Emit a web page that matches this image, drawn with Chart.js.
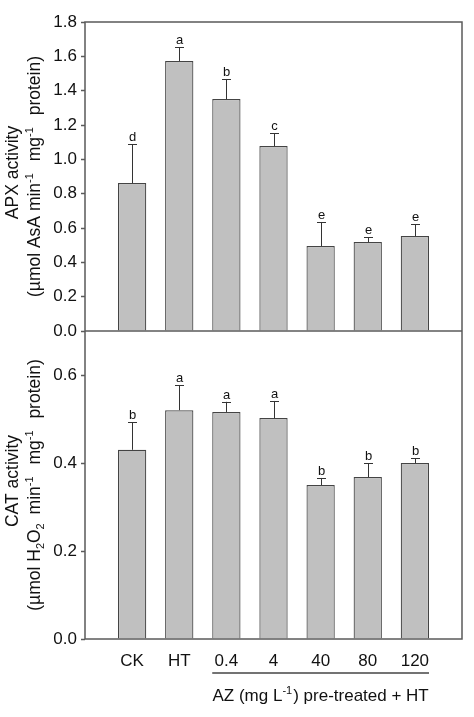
<!DOCTYPE html>
<html><head><meta charset="utf-8">
<script src="https://cdn.jsdelivr.net/npm/chart.js@4/dist/chart.umd.min.js"></script>
<style>html,body{margin:0;padding:0;background:#fff}#wrap{width:474px;height:717px}</style>
</head><body><div id="wrap"><canvas id="c" width="474" height="717"></canvas></div>
<script>
// ---- data ----
const categories = ['CK', 'HT', '0.4', '4', '40', '80', '120'];
const apxMean = [0.862, 1.573, 1.351, 1.077, 0.495, 0.518, 0.553];
const apxErr = [0.227, 0.081, 0.117, 0.076, 0.140, 0.029, 0.070];
const apxLetters = ['d', 'a', 'b', 'c', 'e', 'e', 'e'];
const catMean = [0.430, 0.520, 0.516, 0.502, 0.350, 0.368, 0.400];
const catErr = [0.063, 0.057, 0.023, 0.039, 0.016, 0.032, 0.011];
const catLetters = ['b', 'a', 'a', 'a', 'b', 'b', 'b'];
const apxRange = [0, 1.8];
const catRange = [0, 0.7];
const tickStep = 0.2;
const groupFirst = 2, groupLast = 6; // AZ pre-treated categories

// ---- style ----
const FONT = 'Liberation Sans, Arial, sans-serif';
const AXIS = '#5a5a5a';
const BAR_FILL = '#c0c0c0';
const BAR_EDGE = '#444';
const TXT = '#111';

function richText(ctx, segs, size) {
  const parts = segs.map(s => {
    const fs = s.sup || s.sub ? Math.round(size * 0.62) : size;
    ctx.font = fs + 'px ' + FONT;
    return {t: s.t, fs, w: ctx.measureText(s.t).width + (s.gap || 0), dy: s.sup ? -size * 0.42 : (s.sub ? size * 0.25 : 0)};
  });
  return {parts, width: parts.reduce((a, p) => a + p.w, 0)};
}
function drawRich(ctx, segs, size, cx, cy, rotate) {
  ctx.save();
  ctx.translate(cx, cy);
  if (rotate) ctx.rotate(-Math.PI / 2);
  const r = richText(ctx, segs, size);
  let x = -r.width / 2;
  ctx.textAlign = 'left';
  ctx.textBaseline = 'alphabetic';
  ctx.fillStyle = TXT;
  for (const p of r.parts) {
    ctx.font = p.fs + 'px ' + FONT;
    ctx.fillText(p.t, x, p.dy);
    x += p.w;
  }
  ctx.restore();
}

const decor = {
  id: 'decor',
  afterDatasetsDraw(chart) {
    const ctx = chart.ctx;
    const {left, right, top, bottom} = chart.chartArea;
    const xs = chart.scales.x, ya = chart.scales.yApx, yc = chart.scales.yCat;
    const barW = chart.getDatasetMeta(0).data[0].width;
    ctx.save();
    // error bars + letters
    const drawErr = (scale, mean, err, letters) => {
      ctx.strokeStyle = '#333';
      ctx.lineWidth = 1;
      for (let i = 0; i < categories.length; i++) {
        const x = Math.round(xs.getPixelForValue(i)) + 0.5;
        const y0 = scale.getPixelForValue(mean[i]);
        const y1 = scale.getPixelForValue(mean[i] + err[i]);
        ctx.beginPath();
        ctx.moveTo(x, y0); ctx.lineTo(x, y1);
        ctx.moveTo(x - 4.5, Math.round(y1) + 0.5); ctx.lineTo(x + 4.5, Math.round(y1) + 0.5);
        ctx.stroke();
        ctx.fillStyle = TXT;
        ctx.font = '13px ' + FONT;
        ctx.textAlign = 'center';
        ctx.textBaseline = 'alphabetic';
        ctx.fillText(letters[i], x, y1 - 3);
      }
    };
    drawErr(ya, apxMean, apxErr, apxLetters);
    drawErr(yc, catMean, catErr, catLetters);
    // frame + divider
    ctx.strokeStyle = AXIS;
    ctx.lineWidth = 1.5;
    ctx.strokeRect(left, top, right - left, bottom - top);
    const yd = ya.getPixelForValue(apxRange[0]);
    ctx.beginPath(); ctx.moveTo(left, yd); ctx.lineTo(right, yd); ctx.stroke();
    // group underline and x title
    const gx0 = xs.getPixelForValue(groupFirst) - barW / 2;
    const gx1 = xs.getPixelForValue(groupLast) + barW / 2;
    ctx.strokeStyle = '#444';
    ctx.lineWidth = 1.5;
    ctx.beginPath(); ctx.moveTo(gx0, bottom + 34); ctx.lineTo(gx1, bottom + 34); ctx.stroke();
    drawRich(ctx, [{t: 'AZ (mg L'}, {t: '-1', sup: true, gap: 1}, {t: ') pre-treated + HT'}], 17, (gx0 + gx1) / 2, bottom + 62, false);
    // y titles
    const midA = (ya.top + ya.bottom) / 2, midC = (yc.top + yc.bottom) / 2;
    drawRich(ctx, [{t: 'APX activity'}], 17.5, 18, midA - 4, true);
    drawRich(ctx, [{t: '(µmol AsA min'}, {t: '-1', sup: true, gap: 7}, {t: ' mg'}, {t: '-1', sup: true, gap: 7}, {t: ' protein)'}], 17.5, 40, midA, true);
    drawRich(ctx, [{t: 'CAT activity'}], 17.5, 18, midC - 4, true);
    drawRich(ctx, [{t: '(µmol H'}, {t: '2', sub: true}, {t: 'O'}, {t: '2', sub: true, gap: 4}, {t: ' min'}, {t: '-1', sup: true, gap: 7}, {t: ' mg'}, {t: '-1', sup: true, gap: 7}, {t: ' protein)'}], 17.5, 40, midC, true);
    ctx.restore();
  }
};

const yCommon = (range, weight) => ({
  type: 'linear', position: 'left', stack: 'panels', stackWeight: weight,
  min: range[0], max: range[1],
  border: {display: false},
  grid: {drawOnChartArea: false, tickColor: AXIS, tickLength: 4, tickWidth: 1.5},
  ticks: {stepSize: tickStep, autoSkip: false, padding: 4, color: TXT, font: {family: FONT, size: 17},
          callback: v => v.toFixed(1)},
  afterBuildTicks: s => { s.ticks = s.ticks.filter(t => Math.abs(t.value / tickStep - Math.round(t.value / tickStep)) < 1e-6); },
  afterFit: s => { s.width = 85; }
});

const barStyle = {backgroundColor: BAR_FILL, borderColor: BAR_EDGE, borderWidth: 1.2, grouped: false,
                  barPercentage: 0.6, categoryPercentage: 1};

new Chart(document.getElementById('c'), {
  type: 'bar',
  data: {datasets: [
    Object.assign({label: 'CAT', yAxisID: 'yCat', xAxisID: 'x', data: categories.map((c, i) => ({x: i, y: catMean[i]}))}, barStyle),
    Object.assign({label: 'APX', yAxisID: 'yApx', xAxisID: 'x', data: categories.map((c, i) => ({x: i, y: apxMean[i]}))}, barStyle)
  ]},
  options: {
    responsive: false, animation: false, devicePixelRatio: 1,
    layout: {padding: {top: 22, right: 6, left: 0, bottom: 0}},
    plugins: {legend: {display: false}, tooltip: {enabled: false}},
    scales: {
      x: {type: 'linear', min: -1, max: categories.length, offset: false,
          grid: {display: false, drawTicks: false}, border: {display: false},
          ticks: {stepSize: 1, autoSkip: false, maxRotation: 0, padding: 12, color: TXT,
                  font: {family: FONT, size: 17}, callback: v => categories[v] ?? ''},
          afterFit: s => { s.height = 78; }},
      yCat: yCommon(catRange, 308),
      yApx: yCommon(apxRange, 309)
    }
  },
  plugins: [decor]
});
</script>
</body></html>
